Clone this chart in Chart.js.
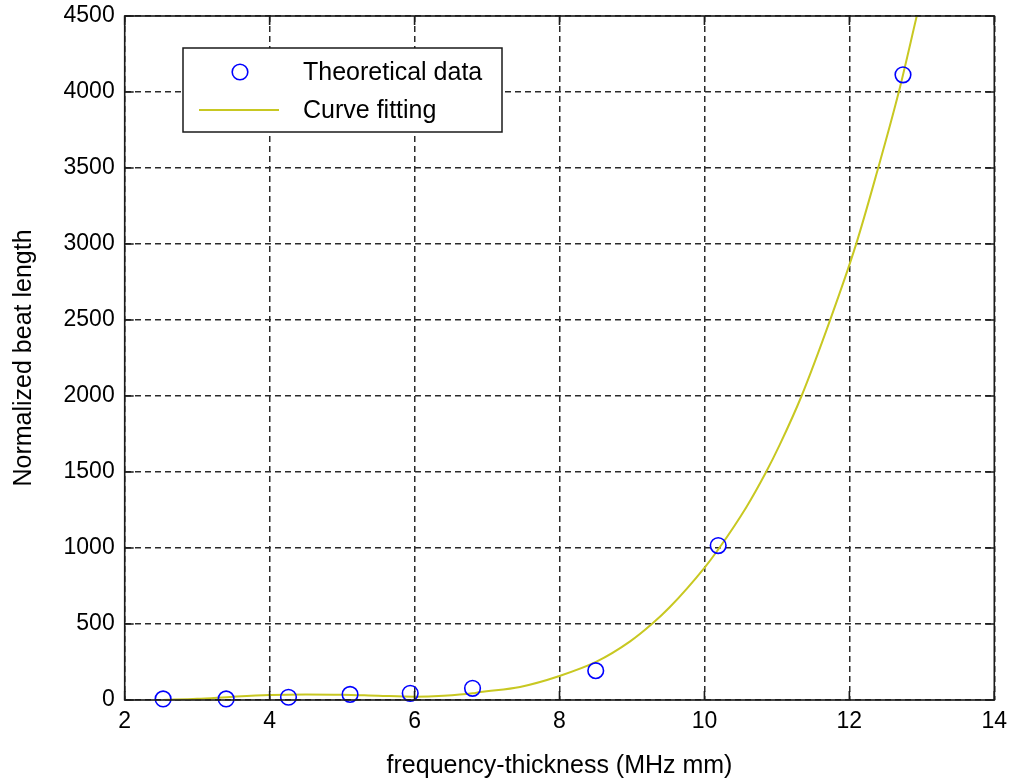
<!DOCTYPE html>
<html>
<head>
<meta charset="utf-8">
<script src="https://cdn.jsdelivr.net/npm/chart.js@4.4.1/dist/chart.umd.min.js"></script>
<style>
  html, body { margin: 0; padding: 0; background: #fff; }
  #wrap { width: 1011px; height: 782px; }
</style>
</head>
<body>
<div id="wrap"><canvas id="chart" width="1011" height="782"></canvas></div>
<script>
// theoretical points
const dataX = [2.53, 3.40, 4.26, 5.11, 5.94, 6.80, 8.50, 10.19, 12.74];
const dataY = [7, 7, 18, 37, 44, 77, 193, 1016, 4113];

// fitted curve, sampled along the drawn line
const fitX = [2.53, 3.0, 3.5, 4.0, 4.5, 5.0, 5.5, 6.0, 6.4, 6.8, 6.9, 7.455, 8.0, 8.51, 8.97,
              9.27, 9.52, 10.0, 10.19, 10.58, 10.84, 11.04, 11.34, 11.73, 12.09, 12.38, 12.68, 12.93];
const fitY = [0, 8, 22, 33, 37, 35, 28, 22, 28, 44, 52, 86, 158, 252, 384,
              498, 610, 870, 990, 1270, 1490, 1680, 2000, 2494, 2994, 3470, 3996, 4500];

const xTicks = [2, 4, 6, 8, 10, 12, 14];
const yTicks = [0, 500, 1000, 1500, 2000, 2500, 3000, 3500, 4000, 4500];

const FONT = "'Liberation Sans', Arial, sans-serif";

// box round the axes, inward ticks, and the legend
const framePlugin = {
  id: 'frame',
  afterDraw(chart) {
    const ctx = chart.ctx;
    const a = chart.chartArea;
    const xs = chart.scales.x, ys = chart.scales.y;
    const tl = 9;
    ctx.save();
    ctx.strokeStyle = '#1a1a1a';
    ctx.lineWidth = 1.6;
    ctx.strokeRect(a.left, a.top, a.right - a.left, a.bottom - a.top);
    ctx.beginPath();
    xTicks.forEach(v => {
      const px = xs.getPixelForValue(v);
      ctx.moveTo(px, a.bottom); ctx.lineTo(px, a.bottom - tl);
      ctx.moveTo(px, a.top); ctx.lineTo(px, a.top + tl);
    });
    yTicks.forEach(v => {
      const py = ys.getPixelForValue(v);
      ctx.moveTo(a.left, py); ctx.lineTo(a.left + tl, py);
      ctx.moveTo(a.right, py); ctx.lineTo(a.right - tl, py);
    });
    ctx.stroke();

    // legend
    const ds = chart.data.datasets;
    const bx = 183, by = 48, bw = 319, bh = 84;
    ctx.fillStyle = '#fff';
    ctx.fillRect(bx, by, bw, bh);
    ctx.lineWidth = 1.5;
    ctx.strokeStyle = '#1a1a1a';
    ctx.strokeRect(bx, by, bw, bh);

    ctx.beginPath();
    ctx.arc(240, 72, ds[0].pointRadius, 0, Math.PI * 2);
    ctx.lineWidth = ds[0].pointBorderWidth;
    ctx.strokeStyle = ds[0].pointBorderColor;
    ctx.stroke();

    ctx.beginPath();
    ctx.moveTo(199, 110); ctx.lineTo(279, 110);
    ctx.lineWidth = ds[1].borderWidth;
    ctx.strokeStyle = ds[1].borderColor;
    ctx.stroke();

    ctx.fillStyle = '#000';
    ctx.font = '25px ' + FONT;
    ctx.textAlign = 'left';
    ctx.textBaseline = 'middle';
    ctx.fillText(ds[0].label, 303, 73);
    ctx.fillText(ds[1].label, 303, 111);
    ctx.restore();
  }
};

new Chart(document.getElementById('chart'), {
  type: 'scatter',
  data: {
    datasets: [{
      label: 'Theoretical data',
      data: dataX.map((x, i) => ({ x: x, y: dataY[i] })),
      showLine: false,
      pointStyle: 'circle',
      pointRadius: 7.8,
      pointHoverRadius: 7.8,
      pointBorderWidth: 1.6,
      pointBorderColor: '#0000ff',
      pointBackgroundColor: 'rgba(0,0,0,0)',
      clip: false,
      order: 0
    }, {
      label: 'Curve fitting',
      data: fitX.map((x, i) => ({ x: x, y: fitY[i] })),
      showLine: true,
      borderColor: '#c8c822',
      borderWidth: 2,
      pointRadius: 0,
      cubicInterpolationMode: 'monotone',
      order: 1
    }]
  },
  options: {
    responsive: false,
    animation: false,
    devicePixelRatio: 1,
    layout: { padding: { left: 0, right: 16.7, top: 16, bottom: 0 } },
    plugins: {
      legend: { display: false },
      tooltip: { enabled: false }
    },
    scales: {
      x: {
        type: 'linear',
        min: 2,
        max: 14,
        afterBuildTicks: s => { s.ticks = xTicks.map(v => ({ value: v })); },
        afterFit: s => { s.height = 82; s.paddingLeft = 0; s.paddingRight = 0; },
        ticks: { color: '#000', font: { family: FONT, size: 23 }, padding: 8, maxRotation: 0,
                 callback: v => String(v) },
        grid: { color: '#2a2a2a', lineWidth: 1.5, drawTicks: false },
        border: { display: false, dash: [6, 4] },
        title: {
          display: true,
          text: 'frequency-thickness (MHz mm)',
          color: '#000',
          font: { family: FONT, size: 25 },
          padding: { top: 0, bottom: 1 }
        }
      },
      y: {
        type: 'linear',
        min: 0,
        max: 4500,
        afterBuildTicks: s => { s.ticks = yTicks.map(v => ({ value: v })); },
        afterFit: s => { s.width = 124.7; s.paddingTop = 0; s.paddingBottom = 0; },
        ticks: { color: '#000', font: { family: FONT, size: 23 }, padding: 10,
                 callback: v => String(v) },
        grid: { color: '#2a2a2a', lineWidth: 1.5, drawTicks: false },
        border: { display: false, dash: [6, 4] },
        title: {
          display: true,
          text: 'Normalized beat length',
          color: '#000',
          font: { family: FONT, size: 25 },
          padding: { top: 9, bottom: 0 }
        }
      }
    }
  },
  plugins: [framePlugin]
});
</script>
</body>
</html>
